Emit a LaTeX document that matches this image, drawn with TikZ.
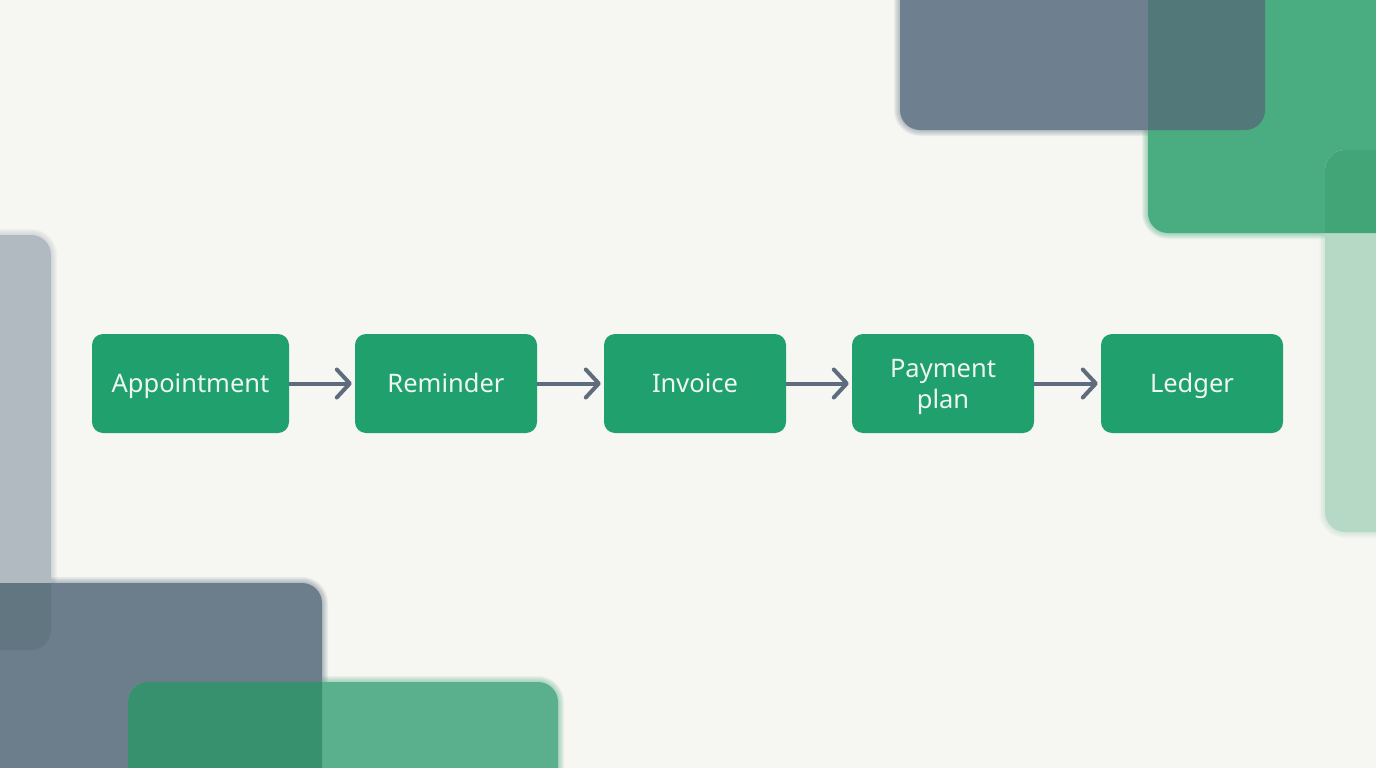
\documentclass[tikz,border=0pt]{standalone}
\usepackage{fontspec}
\setmainfont{Noto Sans}
\usetikzlibrary{arrows.meta,calc}
\definecolor{bg}{HTML}{F6F6F2}
\definecolor{nodegreen}{HTML}{20A06C}
\definecolor{arrowgray}{HTML}{5F6C7D}
\definecolor{txt}{HTML}{EEF6F1}
\definecolor{grayA}{HTML}{6E808F}
\definecolor{greenA}{HTML}{4AAD82}
\definecolor{tealA}{HTML}{52787A}
\definecolor{lightgreen}{HTML}{B6D9C6}
\definecolor{greenB}{HTML}{42A578}
\definecolor{lightgray}{HTML}{B0BAC0}
\definecolor{grayB}{HTML}{6C7D8C}
\definecolor{grayC}{HTML}{627682}
\definecolor{greenC}{HTML}{5AB08C}
\definecolor{tealC}{HTML}{37916E}
\tikzset{
  stepbox/.style={fill=nodegreen, rounded corners=11pt, minimum height=99pt,
    text=txt, align=center, inner sep=0pt, text height=18pt, text depth=0pt,
    font=\fontsize{25.5}{31}\selectfont},
  flow/.style={draw=arrowgray, line width=4pt,
    -{Straight Barb[length=13pt,width=28pt,round]}, shorten >=3pt},
  deco/.style={rounded corners=20pt},
}
\newcommand\halobox[3]{% color, corner1, corner2
  \foreach \d in {1,2,...,6}{
    \fill[#1, opacity=0.09, rounded corners=20pt+\d pt]
      ($#2+(-\d,-\d)$) rectangle ($#3+(\d,\d)$);
  }
}
\begin{document}
\begin{tikzpicture}[x=1pt,y=-1pt]
\useasboundingbox (0,0) rectangle (1376,768);
\fill[bg] (0,0) rectangle (1376,768);

% soft edges first
\halobox{greenA}{(1148,-60)}{(1430,233)}
\halobox{lightgreen}{(1325,150)}{(1430,532)}
\halobox{grayA}{(900,-60)}{(1265,130)}
\halobox{lightgray}{(-60,235)}{(51,650)}
\halobox{grayB}{(-60,583)}{(322,830)}
\halobox{greenC}{(128,682)}{(558,830)}

% top right decorations
\fill[greenA, deco] (1148,-60) rectangle (1430,233);
\fill[lightgreen, deco] (1325,150) rectangle (1430,532);
\begin{scope}
  \clip[deco] (1148,-60) rectangle (1430,233);
  \fill[greenB, deco] (1325,150) rectangle (1430,532);
\end{scope}
\fill[grayA, deco] (900,-60) rectangle (1265,130);
\begin{scope}
  \clip[deco] (1148,-60) rectangle (1430,233);
  \fill[tealA, deco] (900,-60) rectangle (1265,130);
\end{scope}

% bottom left decorations
\fill[lightgray, deco] (-60,235) rectangle (51,650);
\fill[grayB, deco] (-60,583) rectangle (322,830);
\begin{scope}
  \clip[deco] (-60,583) rectangle (322,830);
  \fill[grayC, deco] (-60,235) rectangle (51,650);
\end{scope}
\fill[greenC, deco] (128,682) rectangle (558,830);
\begin{scope}
  \clip[deco] (-60,583) rectangle (322,830);
  \fill[tealC, deco] (128,682) rectangle (558,830);
\end{scope}

% flow
\node[stepbox, minimum width=197pt] (a) at (190.5,383.5) {Appointment};
\node[stepbox, minimum width=182pt] (b) at (446,383.5) {Reminder};
\node[stepbox, minimum width=182pt] (c) at (695,383.5) {Invoice};
\node[stepbox, minimum width=182pt, text height=49pt] (d) at (943,383.5) {Payment\\plan};
\node[stepbox, minimum width=182pt] (e) at (1192,383.5) {Ledger};

\draw[flow] (a.east) -- (b.west);
\draw[flow] (b.east) -- (c.west);
\draw[flow] (c.east) -- (d.west);
\draw[flow] (d.east) -- (e.west);
\end{tikzpicture}
\end{document}
